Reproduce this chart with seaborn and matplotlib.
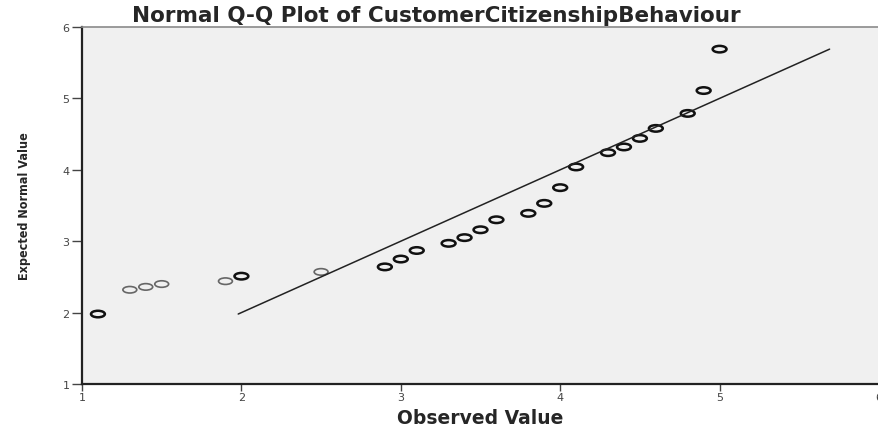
import numpy as np
import pandas as pd
import matplotlib
matplotlib.use("Agg")
import matplotlib.pyplot as plt
from matplotlib.path import Path
from matplotlib.transforms import Affine2D
import seaborn as sns

observed = [1.1, 1.3, 1.4, 1.5, 1.9, 2.0, 2.5, 2.9, 3.0, 3.1, 3.3, 3.4, 3.5,
            3.6, 3.8, 3.9, 4.0, 4.1, 4.3, 4.4, 4.5, 4.6, 4.8, 4.9, 5.0]
expected = [1.98, 2.32, 2.36, 2.40, 2.44, 2.51, 2.57, 2.64, 2.75, 2.87, 2.97,
            3.05, 3.16, 3.30, 3.39, 3.53, 3.75, 4.04, 4.24, 4.32, 4.44, 4.58,
            4.79, 5.11, 5.69]
# heavier outline = several cases on the same spot
heavy = [1, 0, 0, 0, 0, 1, 0, 1, 1, 1, 1, 1, 1,
         1, 1, 1, 1, 1, 1, 1, 1, 1, 1, 1, 1]
ref_line = [1.98, 5.69]
xticks = [1, 2, 3, 4, 5, 6]
yticks = [1, 2, 3, 4, 5, 6]

df = pd.DataFrame({"observed": observed, "expected": expected, "heavy": heavy})

sns.set_style("white")
plt.rcParams["font.family"] = ["DejaVu Sans"]

fig = plt.figure(figsize=(8.79, 4.27), dpi=100)
ax = fig.add_axes([82 / 879, 42 / 427, 797 / 879, 357 / 427])
ax.set_facecolor("#f0f0f0")

# open ellipse marker (the original is stretched horizontally)
ellipse = Path.unit_circle().transformed(Affine2D().scale(1.0, 0.47))

sns.lineplot(x=ref_line, y=ref_line, color="#222222", lw=1.1, ax=ax)
light = df[df.heavy == 0]
dark = df[df.heavy == 1]
sns.scatterplot(data=light, x="observed", y="expected", marker=ellipse, s=100,
                facecolor="none", edgecolor="#666666", linewidth=1.2, ax=ax)
sns.scatterplot(data=dark, x="observed", y="expected", marker=ellipse, s=100,
                facecolor="none", edgecolor="#111111", linewidth=1.8, ax=ax)

ax.set_xlim(1, 6)
ax.set_ylim(1, 6)
ax.set_xticks(xticks)
ax.set_yticks(yticks)
ax.tick_params(axis="both", labelsize=8, labelcolor="#444444", colors="#444444",
               direction="out", width=1)
ax.tick_params(axis="y", length=7, pad=2)
ax.tick_params(axis="x", length=5, pad=1)
ax.xaxis.set_ticks_position("bottom")
ax.yaxis.set_ticks_position("left")

for side in ["left", "bottom"]:
    ax.spines[side].set_color("#222222")
    ax.spines[side].set_linewidth(1.6)
ax.spines["top"].set_color("#8a8a8a")
ax.spines["top"].set_linewidth(1.2)
ax.spines["right"].set_color("#b0b0b0")
ax.spines["right"].set_linewidth(1.0)

ax.set_xlabel("Observed Value", fontsize=13.5, fontweight="bold", labelpad=4)
ax.set_ylabel("Expected Normal Value", fontsize=9, fontweight="bold",
              fontstretch="condensed")
ax.yaxis.set_label_coords(-0.064, 0.5)
fig.text(0.496, 0.963, "Normal Q-Q Plot of CustomerCitizenshipBehaviour",
         fontsize=15.5, fontweight="bold", ha="center", va="center")

fig.savefig("out.png", dpi=100)
